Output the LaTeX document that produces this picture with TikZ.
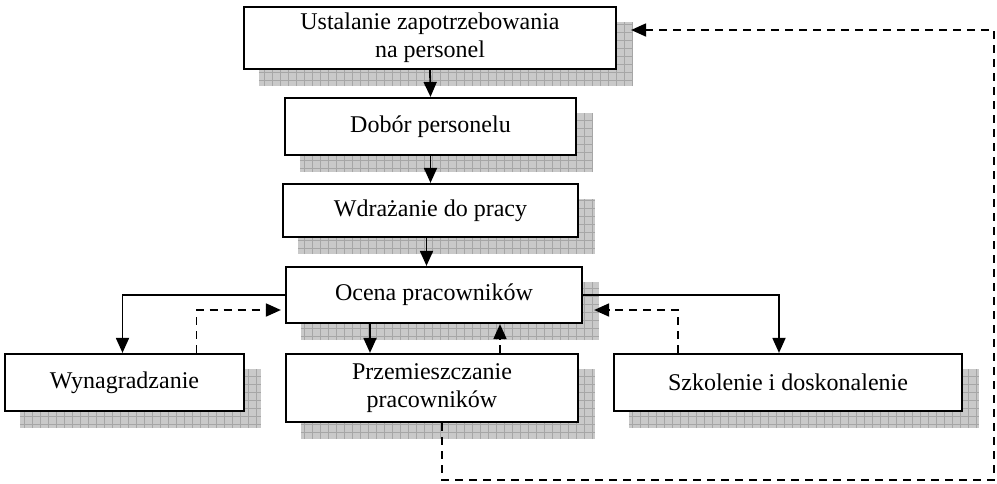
\documentclass[tikz,border=0pt]{standalone}
\usepackage{fontspec}
\setmainfont{Liberation Serif}
\usetikzlibrary{arrows.meta,backgrounds}
\tikzset{
  blok/.style={draw, line width=1.1pt, fill=white, align=center, inner sep=0pt,
    font=\fontsize{12}{14}\selectfont},
  strzalka/.style={line width=0.9pt, -{Triangle[length=7.5pt,width=6.5pt]}},
  powrot/.style={strzalka, dash pattern=on 4pt off 3pt}
}
\begin{document}
\begin{tikzpicture}[x=0.5pt,y=-0.5pt]
        \useasboundingbox (0,0) rectangle (997,483);
        % Bloki
        \node[blok, minimum width=186pt, minimum height=31pt] (ustal) at (430,38) {Ustalanie zapotrzebowania\\na personel};
        \node[blok, minimum width=145.5pt, minimum height=28.5pt] (dobor) at (430.5,126.5) {Dobór personelu};
        \node[blok, minimum width=147.5pt, minimum height=26.5pt] (wdraz) at (430.5,210.5) {Wdrażanie do pracy};
        \node[blok, minimum width=148pt, minimum height=28pt] (ocena) at (434,295) {Ocena pracowników};
        \node[blok, minimum width=119.5pt, minimum height=28.5pt] (wynag) at (124.5,382.5) {Wynagradzanie};
        \node[blok, minimum width=146pt, minimum height=34pt] (przem) at (432,388) {Przemieszczanie\\pracowników};
        \node[blok, minimum width=174pt, minimum height=28.5pt] (szkol) at (788,382.5) {Szkolenie i doskonalenie};
        % Cienie (kratka)
        \begin{scope}[on background layer]
          \foreach \n in {ustal,dobor,wdraz,ocena,wynag,przem,szkol} {
            \fill[gray!42] ([shift={(8pt,-8pt)}]\n.south west) rectangle ([shift={(8pt,-8pt)}]\n.north east);
            \begin{scope}
              \clip ([shift={(8pt,-8pt)}]\n.south west) rectangle ([shift={(8pt,-8pt)}]\n.north east);
              \draw[gray!70, line width=0.3pt, step=4pt] ([shift={(8pt,-8pt)}]\n.south west) grid ([shift={(8pt,-8pt)}]\n.north east);
            \end{scope}
          }
        \end{scope}
        % Strzałki w dół
        \draw[strzalka] (ustal.south) -- (dobor.north);
        \draw[strzalka] (dobor.south) -- (wdraz.north);
        \draw[strzalka] ([xshift=-2pt]wdraz.south) -- ([xshift=-2pt]wdraz.south |- ocena.north);
        \draw[strzalka] (ocena.west) -| ([xshift=-1pt]wynag.north);
        \draw[strzalka] ([xshift=-32pt]ocena.south) -- ([xshift=-32pt]ocena.south |- przem.north);
        \draw[strzalka] (ocena.east) -| ([xshift=-4.5pt]szkol.north);
        % Sprzężenia zwrotne
        \draw[powrot] ([xshift=36pt]wynag.north) |- ([xshift=-2pt,yshift=-7.5pt]ocena.west);
        \draw[powrot] ([xshift=34pt]przem.north) -- ([xshift=34pt]przem.north |- ocena.south);
        \draw[powrot] ([xshift=-55pt]szkol.north) |- ([xshift=5.5pt,yshift=-7.5pt]ocena.east);
        \coordinate (naroznik) at (994,480);
        \draw[powrot] ([xshift=5pt]przem.south) |- (naroznik) |- ([xshift=7pt,yshift=4pt]ustal.east);
    \end{tikzpicture}
\end{document}
